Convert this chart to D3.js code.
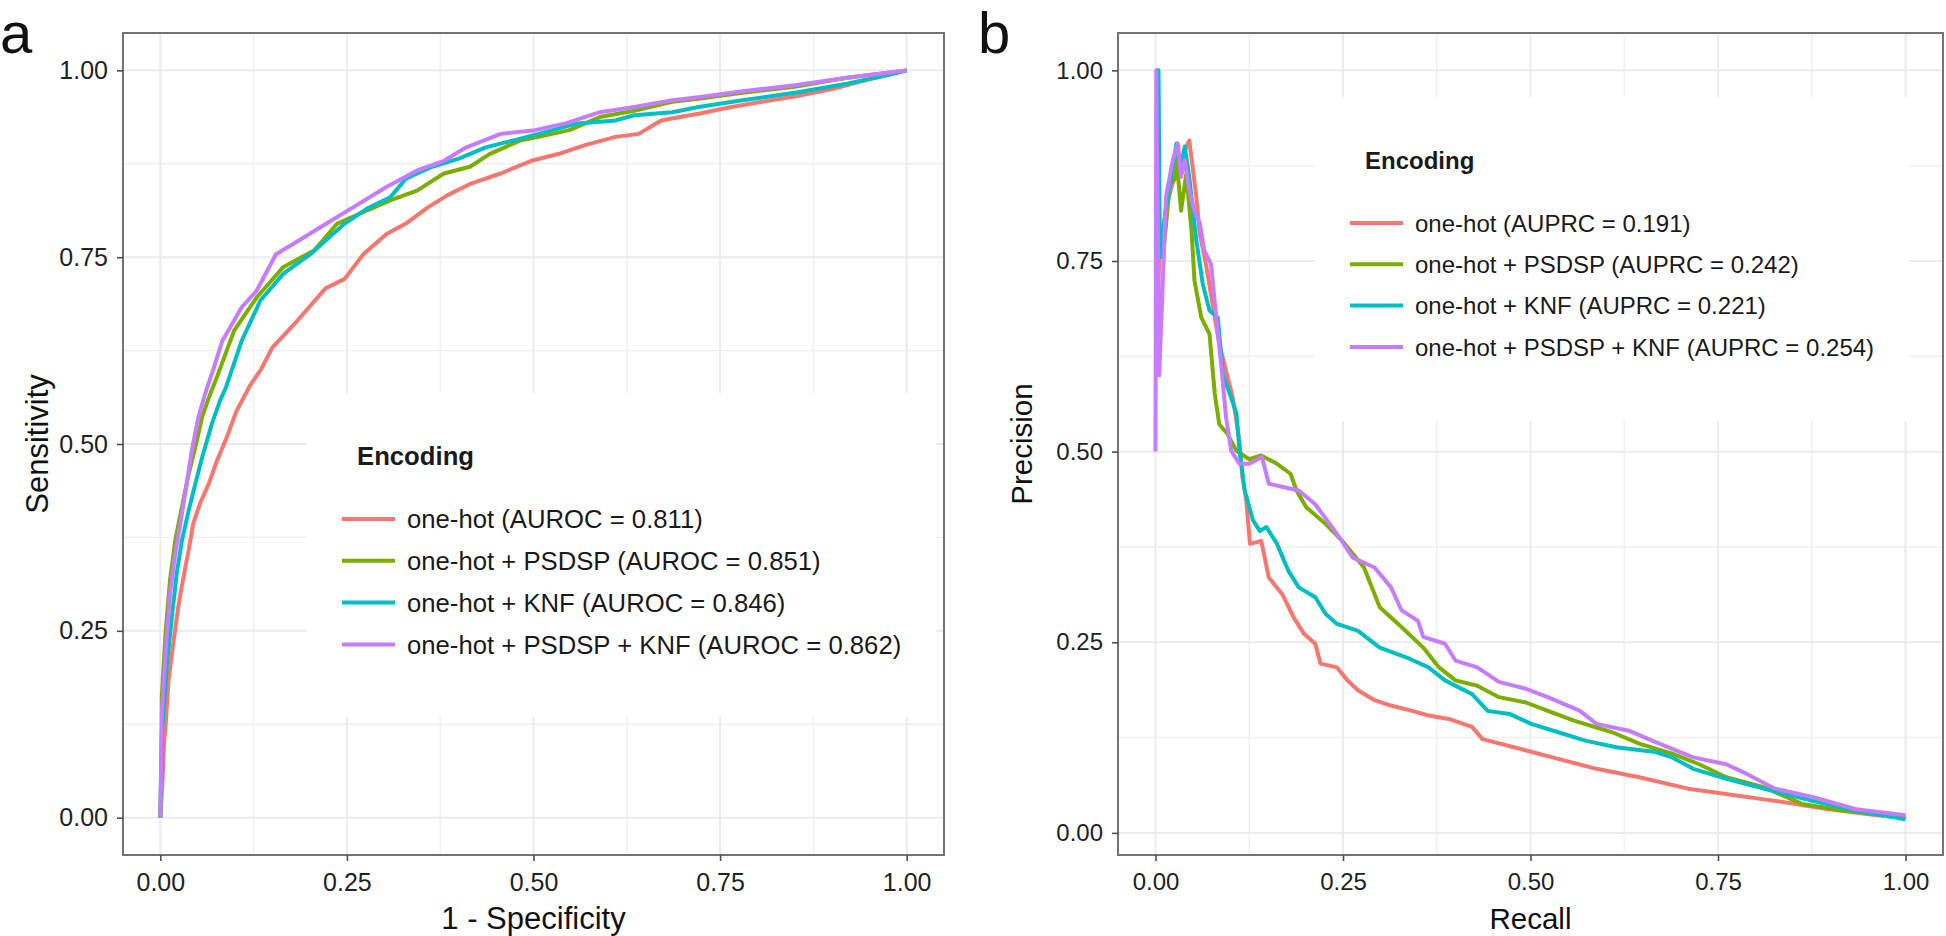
<!DOCTYPE html>
<html>
<head>
<meta charset="utf-8">
<script src="https://cdn.jsdelivr.net/npm/d3@7/dist/d3.min.js"></script>
<style>
    body { margin: 0; background: #fff; }
    svg { display: block; font-family: "Liberation Sans", Arial, sans-serif; }
</style>
</head>
<body>
<svg id="chart" width="1946" height="936"></svg>
<script>
"use strict";

// Series names (legend order) and shared tick values
var seriesNames = ["one-hot", "one-hot + PSDSP", "one-hot + KNF", "one-hot + PSDSP + KNF"];
var aurocValues = ["0.811", "0.851", "0.846", "0.862"];
var auprcValues = ["0.191", "0.242", "0.221", "0.254"];
var majorTicks = [0, 0.25, 0.5, 0.75, 1];
var minorTicks = [0.125, 0.375, 0.625, 0.875];
var tickLabels = ["0.00", "0.25", "0.50", "0.75", "1.00"];

// ROC curves: [1 - specificity, sensitivity]
var rocOneHot = [[0, 0], [0.003, 0.05], [0.005, 0.1], [0.007, 0.122], [0.011, 0.184], [0.018, 0.238],
    [0.024, 0.282], [0.031, 0.322], [0.038, 0.358], [0.044, 0.393], [0.053, 0.42], [0.065, 0.447],
    [0.076, 0.478], [0.089, 0.509], [0.102, 0.544], [0.12, 0.578], [0.135, 0.6], [0.15, 0.629],
    [0.18, 0.661], [0.221, 0.708], [0.247, 0.721], [0.272, 0.754], [0.303, 0.781], [0.329, 0.795],
    [0.359, 0.817], [0.385, 0.833], [0.415, 0.848], [0.456, 0.862], [0.497, 0.879], [0.533, 0.888],
    [0.569, 0.9], [0.61, 0.911], [0.641, 0.915], [0.671, 0.933], [0.696, 0.9375], [0.721, 0.942],
    [0.76, 0.95], [0.8, 0.957], [0.85, 0.965], [0.9, 0.975], [0.95, 0.988], [1, 1]];
var rocPsdsp = [[0, 0], [0.002, 0.1], [0.002, 0.162], [0.007, 0.247], [0.013, 0.318], [0.02, 0.371],
    [0.029, 0.416], [0.038, 0.46], [0.047, 0.496], [0.056, 0.536], [0.065, 0.562], [0.076, 0.59],
    [0.099, 0.652], [0.129, 0.696], [0.165, 0.737], [0.206, 0.759], [0.237, 0.795], [0.277, 0.8125],
    [0.308, 0.826], [0.344, 0.839], [0.38, 0.862], [0.415, 0.871], [0.441, 0.888], [0.482, 0.906],
    [0.507, 0.911], [0.548, 0.92], [0.589, 0.9375], [0.635, 0.946], [0.686, 0.958], [0.721, 0.962],
    [0.78, 0.97], [0.85, 0.978], [0.92, 0.99], [1, 1]];
var rocKnf = [[0, 0], [0.002, 0.109], [0.009, 0.207], [0.016, 0.273], [0.022, 0.327], [0.029, 0.371],
    [0.038, 0.411], [0.047, 0.447], [0.056, 0.482], [0.069, 0.527], [0.08, 0.558], [0.088, 0.576],
    [0.109, 0.638], [0.134, 0.692], [0.165, 0.728], [0.201, 0.754], [0.247, 0.795], [0.277, 0.815],
    [0.308, 0.83], [0.329, 0.855], [0.364, 0.871], [0.4, 0.882], [0.436, 0.897], [0.472, 0.906],
    [0.507, 0.915], [0.559, 0.929], [0.61, 0.933], [0.635, 0.94], [0.686, 0.944], [0.721, 0.951],
    [0.78, 0.96], [0.85, 0.97], [0.92, 0.982], [0.98, 0.995], [1, 1]];
var rocAll = [[0, 0], [0.002, 0.14], [0.007, 0.22], [0.013, 0.3], [0.02, 0.353], [0.029, 0.407],
    [0.036, 0.451], [0.042, 0.49], [0.051, 0.536], [0.06, 0.567], [0.071, 0.6], [0.083, 0.638],
    [0.109, 0.683], [0.129, 0.705], [0.155, 0.754], [0.185, 0.772], [0.226, 0.797], [0.262, 0.819],
    [0.303, 0.844], [0.344, 0.866], [0.38, 0.879], [0.41, 0.897], [0.456, 0.915], [0.502, 0.92],
    [0.543, 0.929], [0.589, 0.944], [0.635, 0.951], [0.686, 0.96], [0.721, 0.964], [0.78, 0.972],
    [0.85, 0.98], [0.92, 0.99], [1, 1]];

// Precision-recall curves: [recall, precision]
var prOneHot = [[0.002, 0.667], [0.005, 0.75], [0.014, 0.82], [0.025, 0.86], [0.035, 0.875], [0.041, 0.9],
    [0.045, 0.908], [0.054, 0.838], [0.059, 0.786], [0.068, 0.742], [0.076, 0.694], [0.085, 0.641],
    [0.094, 0.606], [0.103, 0.571], [0.112, 0.514], [0.116, 0.466], [0.121, 0.436], [0.126, 0.379],
    [0.141, 0.383], [0.151, 0.335], [0.169, 0.313], [0.184, 0.283], [0.198, 0.261], [0.213, 0.248],
    [0.22, 0.222], [0.242, 0.217], [0.256, 0.2], [0.27, 0.187], [0.292, 0.174], [0.314, 0.167],
    [0.342, 0.16], [0.364, 0.154], [0.393, 0.149], [0.422, 0.139], [0.436, 0.123], [0.487, 0.11],
    [0.537, 0.097], [0.588, 0.084], [0.645, 0.073], [0.71, 0.058], [0.753, 0.052], [0.826, 0.042],
    [0.898, 0.031], [0.962, 0.023], [1, 0.02]];
var prPsdsp = [[0.005, 0.8], [0.01, 0.755], [0.019, 0.85], [0.025, 0.856], [0.028, 0.886], [0.034, 0.816],
    [0.041, 0.864], [0.048, 0.79], [0.052, 0.724], [0.061, 0.676], [0.072, 0.654], [0.079, 0.576],
    [0.085, 0.536], [0.096, 0.523], [0.108, 0.501], [0.125, 0.49], [0.141, 0.495], [0.162, 0.484],
    [0.18, 0.471], [0.188, 0.449], [0.201, 0.427], [0.227, 0.405], [0.249, 0.383], [0.278, 0.348],
    [0.299, 0.296], [0.328, 0.27], [0.357, 0.243], [0.378, 0.217], [0.4, 0.2], [0.429, 0.193],
    [0.458, 0.178], [0.494, 0.171], [0.523, 0.16], [0.559, 0.147], [0.609, 0.132], [0.645, 0.117],
    [0.689, 0.104], [0.725, 0.09], [0.761, 0.073], [0.811, 0.06], [0.862, 0.038], [0.919, 0.029],
    [1, 0.021]];
var prKnf = [[0.001, 1], [0.004, 1], [0.006, 0.755], [0.014, 0.82], [0.028, 0.904], [0.033, 0.87],
    [0.039, 0.9], [0.045, 0.86], [0.054, 0.78], [0.063, 0.72], [0.072, 0.685], [0.083, 0.676],
    [0.09, 0.6], [0.099, 0.576], [0.108, 0.55], [0.112, 0.501], [0.119, 0.449], [0.13, 0.41],
    [0.139, 0.396], [0.148, 0.401], [0.162, 0.379], [0.177, 0.344], [0.191, 0.322], [0.213, 0.309],
    [0.227, 0.287], [0.242, 0.274], [0.27, 0.265], [0.299, 0.243], [0.335, 0.23], [0.364, 0.217],
    [0.386, 0.2], [0.422, 0.182], [0.443, 0.16], [0.472, 0.156], [0.501, 0.143], [0.537, 0.132],
    [0.573, 0.121], [0.616, 0.112], [0.667, 0.106], [0.689, 0.099], [0.717, 0.084], [0.761, 0.071],
    [0.811, 0.058], [0.876, 0.042], [0.934, 0.029], [1, 0.018]];
var prAll = [[0, 0.5], [0.001, 1], [0.005, 0.6], [0.014, 0.834], [0.023, 0.882], [0.03, 0.904],
    [0.034, 0.86], [0.039, 0.882], [0.045, 0.843], [0.052, 0.816], [0.059, 0.8], [0.065, 0.764],
    [0.074, 0.746], [0.081, 0.676], [0.088, 0.61], [0.094, 0.545], [0.101, 0.501], [0.112, 0.484],
    [0.125, 0.484], [0.142, 0.493], [0.151, 0.458], [0.173, 0.453], [0.191, 0.449], [0.213, 0.431],
    [0.242, 0.392], [0.263, 0.361], [0.292, 0.348], [0.314, 0.322], [0.328, 0.292], [0.35, 0.278],
    [0.357, 0.257], [0.386, 0.248], [0.4, 0.226], [0.429, 0.217], [0.458, 0.198], [0.494, 0.189],
    [0.523, 0.178], [0.566, 0.16], [0.588, 0.143], [0.631, 0.134], [0.667, 0.119], [0.717, 0.099],
    [0.761, 0.09], [0.789, 0.077], [0.826, 0.058], [0.876, 0.047], [0.934, 0.031], [1, 0.023]];

var colorScale = d3.scaleOrdinal()
    .domain(seriesNames)
    .range(["#F8766D", "#7CAE00", "#00BFC4", "#C77CFF"]);

var svg = d3.select("#chart");

var drawPanel = function(cfg) {
    var x, y, g, grid, line, legend, bg, rows, boxW, xAxis, yAxis, fs;

    x = d3.scaleLinear().domain(cfg.xDomain).range([cfg.left, cfg.right]);
    y = d3.scaleLinear().domain(cfg.yDomain).range([cfg.bottom, cfg.top]);
    g = svg.append("g");
    fs = cfg.legendSize;

    //Grid: minor first, then major
    grid = g.append("g");
    grid.selectAll(".vminor").data(minorTicks).enter().append("line")
        .attr("x1", function(d) { return x(d); }).attr("x2", function(d) { return x(d); })
        .attr("y1", cfg.top).attr("y2", cfg.bottom)
        .attr("stroke", "#f0f0f0").attr("stroke-width", 1.4);
    grid.selectAll(".hminor").data(minorTicks).enter().append("line")
        .attr("y1", function(d) { return y(d); }).attr("y2", function(d) { return y(d); })
        .attr("x1", cfg.left).attr("x2", cfg.right)
        .attr("stroke", "#f0f0f0").attr("stroke-width", 1.4);
    grid.selectAll(".vmajor").data(majorTicks).enter().append("line")
        .attr("x1", function(d) { return x(d); }).attr("x2", function(d) { return x(d); })
        .attr("y1", cfg.top).attr("y2", cfg.bottom)
        .attr("stroke", "#ebebeb").attr("stroke-width", 2);
    grid.selectAll(".hmajor").data(majorTicks).enter().append("line")
        .attr("y1", function(d) { return y(d); }).attr("y2", function(d) { return y(d); })
        .attr("x1", cfg.left).attr("x2", cfg.right)
        .attr("stroke", "#ebebeb").attr("stroke-width", 2);

    //Curves
    line = d3.line()
        .x(function(d) { return x(d[0]); })
        .y(function(d) { return y(d[1]); });
    g.selectAll(".curve").data(cfg.series).enter().append("path")
        .attr("d", function(d) { return line(d); })
        .attr("fill", "none")
        .attr("stroke", function(d, i) { return colorScale(seriesNames[i]); })
        .attr("stroke-width", 4)
        .attr("stroke-linejoin", "round");

    //Legend
    legend = g.append("g").attr("transform", "translate(" + cfg.legendX + "," + cfg.legendY + ")");
    bg = legend.append("rect").attr("fill", "#fff");
    legend.append("text")
        .attr("x", 50).attr("y", 72)
        .attr("font-size", fs + "px").attr("font-weight", "bold").attr("fill", "#1a1a1a")
        .text("Encoding");
    rows = legend.selectAll(".row").data(seriesNames).enter().append("g")
        .attr("transform", function(d, i) { return "translate(0," + (126 + i * cfg.rowStep) + ")"; });
    rows.append("line")
        .attr("x1", 35).attr("x2", 88).attr("y1", 0).attr("y2", 0)
        .attr("stroke", function(d) { return colorScale(d); })
        .attr("stroke-width", 4);
    rows.append("text")
        .attr("x", 100).attr("y", fs * 0.36)
        .attr("font-size", fs + "px").attr("fill", "#1a1a1a")
        .text(function(d, i) { return d + " (" + cfg.metric + " = " + cfg.scores[i] + ")"; });
    boxW = 0;
    rows.selectAll("text").each(function() {
        boxW = Math.max(boxW, this.getComputedTextLength());
    });
    bg.attr("width", 100 + boxW + 35).attr("height", 324);

    //Panel border
    g.append("rect")
        .attr("x", cfg.left).attr("y", cfg.top)
        .attr("width", cfg.right - cfg.left).attr("height", cfg.bottom - cfg.top)
        .attr("fill", "none").attr("stroke", "#737373").attr("stroke-width", 2);

    //Axes
    xAxis = g.append("g")
        .attr("transform", "translate(0," + cfg.bottom + ")")
        .call(d3.axisBottom(x).tickValues(majorTicks)
            .tickFormat(function(d, i) { return tickLabels[i]; })
            .tickSize(6).tickPadding(12));
    yAxis = g.append("g")
        .attr("transform", "translate(" + cfg.left + ",0)")
        .call(d3.axisLeft(y).tickValues(majorTicks)
            .tickFormat(function(d, i) { return tickLabels[i]; })
            .tickSize(6).tickPadding(9));
    [xAxis, yAxis].forEach(function(ax) {
        ax.select(".domain").remove();
        ax.selectAll(".tick line").attr("stroke", "#4d4d4d").attr("stroke-width", 1.6);
        ax.selectAll(".tick text")
            .attr("font-size", cfg.tickSize + "px").attr("fill", "#222")
            .attr("font-family", "Liberation Sans, Arial, sans-serif");
    });

    //Axis titles
    g.append("text")
        .attr("x", (cfg.left + cfg.right) / 2).attr("y", 918 + cfg.titleSize * 0.36)
        .attr("text-anchor", "middle").attr("font-size", cfg.titleSize + "px").attr("fill", "#111")
        .text(cfg.xTitle);
    g.append("text")
        .attr("transform", "translate(" + (cfg.yTitleX + cfg.titleSize * 0.36) + "," +
            ((cfg.top + cfg.bottom) / 2) + ") rotate(-90)")
        .attr("text-anchor", "middle").attr("font-size", cfg.titleSize + "px").attr("fill", "#111")
        .text(cfg.yTitle);

    //Panel letter
    svg.append("text")
        .attr("x", cfg.letterX).attr("y", 53)
        .attr("font-size", "58px").attr("fill", "#111")
        .text(cfg.letter);
};

drawPanel({
    left: 123, right: 944, top: 33, bottom: 855,
    xDomain: [-0.05, 1.05], yDomain: [-0.05, 1.05],
    series: [rocOneHot, rocPsdsp, rocKnf, rocAll],
    metric: "AUROC", scores: aurocValues,
    legendX: 307, legendY: 393, legendSize: 25.7, rowStep: 41.8,
    tickSize: 25, titleSize: 31,
    xTitle: "1 - Specificity", yTitle: "Sensitivity", yTitleX: 37,
    letter: "a", letterX: 0
});

drawPanel({
    left: 1118, right: 1943, top: 33, bottom: 855,
    xDomain: [-0.05, 1.05], yDomain: [-0.029, 1.049],
    series: [prOneHot, prPsdsp, prKnf, prAll],
    metric: "AUPRC", scores: auprcValues,
    legendX: 1315, legendY: 97, legendSize: 24, rowStep: 41.3,
    tickSize: 24, titleSize: 29.5,
    xTitle: "Recall", yTitle: "Precision", yTitleX: 1021,
    letter: "b", letterX: 978
});
</script>
</body>
</html>
